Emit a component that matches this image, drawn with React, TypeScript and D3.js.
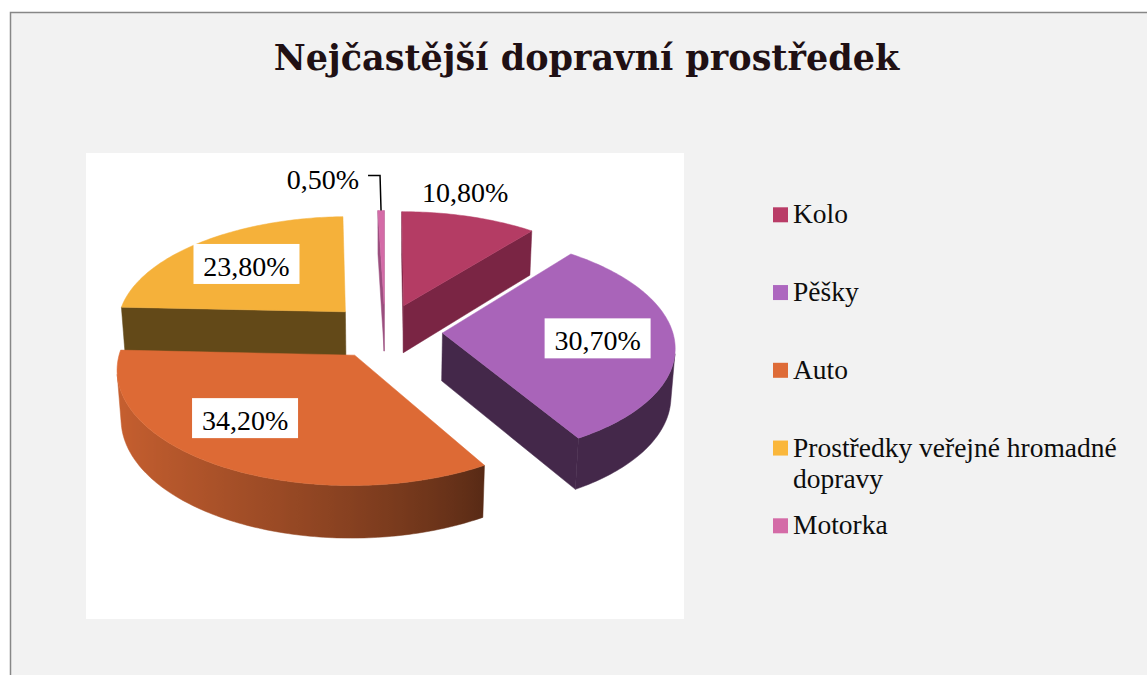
import React from "react";
import * as d3 from "d3";

// ---------- data ----------
const categories = ["Kolo", "Pěšky", "Auto", "Prostředky veřejné hromadné dopravy", "Motorka"];
const values = [10.8, 30.7, 34.2, 23.8, 0.5];
const topColors = ["#B43C64", "#A964B9", "#DD6A35", "#F5B13A", "#D46BA7"];
const cutColors = ["#7A2544", "#44284A", "#6A3015", "#634918", "#9B4E7E"];
const legendColors = ["#B93C67", "#AD67BF", "#DE6B37", "#FAB73B", "#D46BA7"];
const labelModes = ["outside", "inside", "inside", "inside", "leader"];
const labelAngleShift = [-5, 0, 9, 0, 0];
const title = "Nejčastější dopravní prostředek";

// ---------- layout / projection ----------
const W = 1147, H = 675;
const cx = 385, cy = 331;
const sinT = 0.478, cosT = Math.sqrt(1 - sinT * sinT);
const D = 7.84, F = 1803;
const depthH = 0.24, explode = 0.25, R = 1;
const cam = [0, D * sinT, D * cosT];

type V3 = [number, number, number];
function proj(p: V3): [number, number] {
  const [X, Y, Z] = p;
  const depth = D - (Y * sinT + Z * cosT);
  return [cx + (F * X) / depth, cy - (F * (Y * cosT - Z * sinT)) / depth];
}
function facing(n: V3, p: V3) {
  return n[0] * (cam[0] - p[0]) + n[1] * (cam[1] - p[1]) + n[2] * (cam[2] - p[2]) > 0;
}
const fmtLocale = d3.formatLocale({ decimal: ",", thousands: " ", grouping: [3], currency: ["", ""] });
const fmt = (v: number) => fmtLocale.format(".2f")(v) + "%";

function shade(color: string, k: number) {
  const c = d3.rgb(color);
  return d3.rgb(c.r * k, c.g * k, c.b * k).formatHex();
}
function wallFactor(nx: number) {
  const t = Math.max(0, Math.min(1, (0.5 - nx) / 1.5));
  return 0.4 + 0.5 * Math.pow(t, 0.8);
}
const line = d3.line<[number, number]>();

function wrap(text: string, maxChars: number) {
  const words = text.split(" ");
  const lines: string[] = [];
  let cur = "";
  for (const w of words) {
    const t = cur ? cur + " " + w : w;
    if (t.length > maxChars && cur) { lines.push(cur); cur = w; } else cur = t;
  }
  if (cur) lines.push(cur);
  return lines;
}

export default function App() {
  const arcs = d3.pie<number>().sort(null).value((d) => d)(values);
  const deg = Math.PI / 180;

  const slices = arcs.map((a, i) => {
    const a0 = a.startAngle, a1 = a.endAngle, mid = (a0 + a1) / 2;
    const c: V3 = [explode * Math.sin(mid), 0, -explode * Math.cos(mid)];
    const pt = (ang: number, r: number, Y: number): V3 => [c[0] + r * Math.sin(ang), Y, c[2] - r * Math.cos(ang)];
    const n = Math.max(2, Math.ceil((a1 - a0) / deg));
    const angs = d3.range(n + 1).map((k) => a0 + ((a1 - a0) * k) / n);

    // top face
    const topPts: [number, number][] = [proj(pt(0, 0, 0)), ...angs.map((g) => proj(pt(g, R, 0)))];
    const topPath = line(topPts) + "Z";

    // walls (runs of visible segments)
    const runs: number[][] = [];
    let curRun: number[] | null = null;
    for (let k = 0; k < n; k++) {
      const am = (angs[k] + angs[k + 1]) / 2;
      const vis = facing([Math.sin(am), 0, -Math.cos(am)], pt(am, R, -depthH / 2));
      if (vis) {
        if (!curRun) { curRun = [k]; runs.push(curRun); }
        curRun.push(k + 1);
      } else curRun = null;
    }
    const walls = runs.map((run, ri) => {
      const ga = run.map((k) => angs[k]);
      const topA = ga.map((g) => proj(pt(g, R, 0)));
      const botA = ga.map((g) => proj(pt(g, R, -depthH))).reverse();
      const path = line([...topA, ...botA]) + "Z";
      const samples = ga.map((g) => ({ x: proj(pt(g, R, -depthH / 2))[0], col: shade(topColors[i], wallFactor(Math.sin(g))) }));
      samples.sort((p, q) => p.x - q.x);
      const xMin = samples[0].x, xMax = samples[samples.length - 1].x;
      return { id: `wall-${i}-${ri}`, path, samples, xMin, xMax };
    });

    // cut faces
    const cuts: string[] = [];
    const cutFace = (ang: number, nAng: number) => {
      const quad: V3[] = [pt(ang, 0, 0), pt(ang, R, 0), pt(ang, R, -depthH), pt(ang, 0, -depthH)];
      const pm = pt(ang, R / 2, -depthH / 2);
      if (facing([Math.sin(nAng), 0, -Math.cos(nAng)], pm)) cuts.push(line(quad.map(proj))! + "Z");
    };
    cutFace(a0, a0 - Math.PI / 2);
    cutFace(a1, a1 + Math.PI / 2);

    // label
    const la = mid + labelAngleShift[i] * deg;
    const mode = labelModes[i];
    const lp = mode === "inside" ? proj(pt(la, 0.67, 0)) : mode === "outside" ? proj(pt(la, 1.3, 0)) : proj(pt(mid, R, 0));

    return { i, mid, topPath, walls, cuts, mode, lp, order: -Math.cos(mid) };
  });

  const drawOrder = [...slices].sort((p, q) => p.order - q.order);

  const legendY = d3.scaleLinear().domain([0, 1]).range([223.3, 301.05]);

  return (
    <div style={{ position: "absolute", left: 0, top: 0 }}>
      <svg width={W} height={H} style={{ display: "block" }}>
        <rect x={0} y={0} width={W} height={H} fill="#ffffff" />
        <rect x={10.5} y={12.5} width={W + 20} height={H + 20} fill="#F2F2F2" stroke="#878787" strokeWidth={1.5} />
        <text x={586.5} y={70} textAnchor="middle" fontFamily="'DejaVu Serif', serif" fontWeight="bold" fontSize={35} fill="#201014">
          {title}
        </text>
        <rect x={86} y={153} width={598} height={466} fill="#ffffff" />
        <defs>
          {slices.flatMap((s) =>
            s.walls.map((w) => (
              <linearGradient key={w.id} id={w.id} gradientUnits="userSpaceOnUse" x1={w.xMin} x2={w.xMax} y1={0} y2={0}>
                {w.samples.map((sm, k) => (
                  <stop key={k} offset={w.xMax > w.xMin ? (sm.x - w.xMin) / (w.xMax - w.xMin) : 0} stopColor={sm.col} />
                ))}
              </linearGradient>
            ))
          )}
        </defs>
        {drawOrder.map((s) => (
          <g key={s.i}>
            {s.walls.map((w) => (
              <path key={w.id} d={w.path} fill={`url(#${w.id})`} stroke={`url(#${w.id})`} strokeWidth={0.5} />
            ))}
            {s.cuts.map((d, k) => (
              <path key={k} d={d} fill={cutColors[s.i]} stroke={cutColors[s.i]} strokeWidth={0.5} />
            ))}
            <path d={s.topPath} fill={topColors[s.i]} stroke={topColors[s.i]} strokeWidth={0.5} />
          </g>
        ))}
        {slices.map((s) => {
          const txt = fmt(values[s.i]);
          const [x, y] = s.lp;
          if (s.mode === "inside") {
            return (
              <g key={"l" + s.i}>
                <rect x={x - 53} y={y - 20} width={106} height={40} fill="#ffffff" />
                <text x={x} y={y + 12} textAnchor="middle" fontFamily="'Liberation Serif', serif" fontSize={28} fill="#000">
                  {txt}
                </text>
              </g>
            );
          }
          if (s.mode === "outside") {
            return (
              <text key={"l" + s.i} x={x} y={y + 12} textAnchor="middle" fontFamily="'Liberation Serif', serif" fontSize={28} fill="#000">
                {txt}
              </text>
            );
          }
          const ly = y - 35;
          return (
            <g key={"l" + s.i}>
              <path d={line([[x, y], [x - 1, ly], [x - 13, ly]])!} fill="none" stroke="#000" strokeWidth={1.5} />
              <text x={x - 22} y={ly + 14} textAnchor="end" fontFamily="'Liberation Serif', serif" fontSize={28} fill="#000">
                {txt}
              </text>
            </g>
          );
        })}
        {categories.map((c, i) => {
          const by = legendY(i);
          const lines = wrap(c, 30);
          return (
            <g key={"lg" + i}>
              <rect x={773} y={by - 16} width={15} height={15} fill={legendColors[i]} />
              <text x={793} y={by} fontFamily="'Liberation Serif', serif" fontSize={27.5} fill="#0D0D0D">
                {lines.map((ln, k) => (
                  <tspan key={k} x={793} dy={k === 0 ? 0 : 31}>
                    {ln}
                  </tspan>
                ))}
              </text>
            </g>
          );
        })}
      </svg>
    </div>
  );
}
